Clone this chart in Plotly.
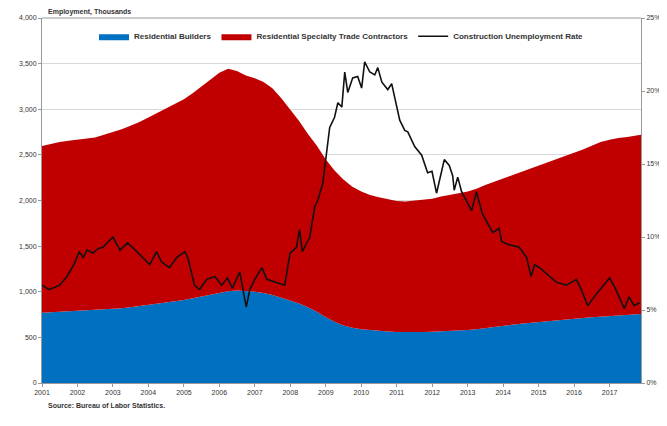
import pandas as pd
import plotly.graph_objects as go

# Quarterly employment (thousands)
area_dates = [d.strftime("%Y-%m-%d") for d in pd.date_range("2001-01-01", periods=68, freq="QS")] + ["2017-11-20"]

builders = [770, 775, 780, 785, 790, 795, 800, 805, 810, 820, 830, 842,
            855, 868, 880, 895, 910, 930, 950, 970, 990, 1005, 1015, 1010,
            1000, 985, 965, 935, 905, 870, 830, 780, 720, 670, 630, 605,
            590, 580, 575, 565, 560, 558, 558, 560, 562, 565, 570, 575,
            580, 590, 600, 612, 625, 638, 650, 660, 670, 680, 690, 698,
            705, 712, 720, 728, 735, 742, 748, 752, 756]

specialty = [1827, 1845, 1860, 1870, 1875, 1885, 1890, 1915, 1940, 1960, 1990, 2018,
             2055, 2092, 2135, 2165, 2200, 2245, 2300, 2360, 2410, 2440, 2405, 2360,
             2340, 2315, 2265, 2185, 2095, 2000, 1900, 1820, 1730, 1660, 1600, 1545,
             1510, 1480, 1460, 1450, 1435, 1432, 1442, 1450, 1458, 1480, 1490, 1505,
             1520, 1540, 1570, 1593, 1615, 1637, 1660, 1690, 1715, 1740, 1765, 1792,
             1820, 1848, 1880, 1912, 1930, 1943, 1947, 1958, 1964]

rate_dates = ["2001-01-01", "2001-03-15", "2001-07-01", "2001-09-15", "2001-12-01",
              "2002-01-20", "2002-03-01", "2002-04-10", "2002-06-10", "2002-07-30",
              "2002-09-20", "2002-11-01", "2003-01-01", "2003-03-15", "2003-06-01",
              "2003-09-05", "2004-01-15", "2004-03-25", "2004-05-15", "2004-08-05",
              "2004-10-20", "2005-01-10", "2005-02-10", "2005-04-20", "2005-06-10",
              "2005-08-25", "2005-11-15", "2006-01-25", "2006-03-25", "2006-05-15",
              "2006-07-30", "2006-10-05", "2006-11-10", "2007-01-01", "2007-03-15",
              "2007-05-05", "2007-08-15", "2007-11-05", "2007-12-30", "2008-03-05",
              "2008-04-05", "2008-05-05", "2008-07-20", "2008-09-10", "2008-10-10",
              "2008-12-01", "2009-02-10", "2009-04-01", "2009-05-05", "2009-06-15",
              "2009-07-15", "2009-08-15", "2009-10-05", "2009-11-25", "2010-01-05",
              "2010-02-05", "2010-03-30", "2010-05-20", "2010-06-20", "2010-08-01",
              "2010-10-01", "2010-11-10", "2010-12-10", "2011-02-01", "2011-03-25",
              "2011-04-25", "2011-07-05", "2011-09-15", "2011-11-15", "2011-12-30",
              "2012-02-15", "2012-05-05", "2012-06-25", "2012-07-30", "2012-08-15",
              "2012-09-20", "2012-10-30", "2013-02-10", "2013-04-01", "2013-06-01",
              "2013-09-15", "2013-11-20", "2013-12-15", "2014-02-15", "2014-06-15",
              "2014-08-30", "2014-10-15", "2014-11-20", "2015-01-10", "2015-03-25",
              "2015-07-05", "2015-10-15", "2016-01-25", "2016-03-15", "2016-05-20",
              "2016-08-30", "2017-01-01", "2017-02-20", "2017-06-01", "2017-07-20",
              "2017-09-10", "2017-11-05"]

rate = [6.7, 6.4, 6.7, 7.3, 8.2,
        9.0, 8.6, 9.1, 8.9, 9.2,
        9.3, 9.6, 10.0, 9.1, 9.6,
        9.0, 8.1, 9.0, 8.3, 7.9,
        8.6, 9.0, 8.6, 6.7, 6.4,
        7.1, 7.3, 6.7, 7.2, 6.5,
        7.6, 5.2, 6.4, 7.1, 7.9,
        7.1, 6.9, 6.7, 8.9, 9.3,
        10.5, 9.0, 10.0, 12.1, 12.5,
        13.7, 17.5, 18.2, 19.2, 18.9,
        21.3, 19.9, 20.9, 21.0, 20.2,
        22.0, 21.3, 21.1, 21.6, 20.6,
        20.1, 20.5, 19.6, 18.0, 17.3,
        17.2, 16.2, 15.6, 14.4, 14.5,
        13.0, 15.3, 14.9, 14.2, 13.2,
        14.1, 13.1, 11.8, 13.1, 11.6,
        10.3, 10.6, 9.7, 9.5, 9.3,
        8.6, 7.3, 8.1, 7.9, 7.5,
        6.9, 6.7, 7.1, 6.4, 5.3,
        6.2, 7.2, 6.6, 5.1, 5.9,
        5.3, 5.5]

year_ticks = [f"{y}-01-01" for y in range(2001, 2018)]
year_labels = [str(y) for y in range(2001, 2018)]

FONT = "Liberation Sans"
TXT = "#333333"

fig = go.Figure()
fig.add_trace(go.Scatter(x=area_dates, y=builders, name="<b>Residential Builders</b>",
                         stackgroup="emp", mode="lines", line=dict(width=0, color="#0070C0"),
                         fillcolor="#0070C0"))
fig.add_trace(go.Scatter(x=area_dates, y=specialty, name="<b>Residential Specialty Trade Contractors</b>",
                         stackgroup="emp", mode="lines", line=dict(width=0, color="#C00000"),
                         fillcolor="#C00000"))
fig.add_trace(go.Scatter(x=rate_dates, y=rate, name="<b>Construction Unemployment Rate</b>",
                         mode="lines", line=dict(width=1.6, color="#111111"), yaxis="y2"))

fig.update_layout(
    width=659, height=418,
    margin=dict(l=34, r=26, t=10, b=43, autoexpand=False),
    paper_bgcolor="white", plot_bgcolor="white",
    font=dict(family=FONT, size=7, color=TXT),
    showlegend=True,
    legend=dict(orientation="h", x=0.5, xanchor="center", y=0.95, yanchor="middle",
                font=dict(size=8, color=TXT), bgcolor="rgba(0,0,0,0)",
                itemwidth=30, tracegroupgap=0, traceorder="normal"),
    xaxis=dict(type="date", range=["2001-01-01", "2017-11-20"],
               tickvals=year_ticks, ticktext=year_labels, automargin=False,
               showgrid=False, ticks="outside", ticklen=3, tickcolor="#999999",
               showline=True, linecolor="#999999", linewidth=1,
               tickfont=dict(size=7, color=TXT)),
    yaxis=dict(range=[0, 4000], dtick=500, tickformat=",", showgrid=True,
               gridcolor="#D9D9D9", gridwidth=1, zeroline=False, automargin=False,
               showline=True, linecolor="#999999", linewidth=1,
               ticks="outside", ticklen=3, tickcolor="#999999",
               tickfont=dict(size=7, color=TXT)),
    yaxis2=dict(range=[0, 25], dtick=5, ticksuffix="%", overlaying="y", side="right",
                showgrid=False, zeroline=False, showline=True, linecolor="#999999",
                linewidth=1, ticks="outside", ticklen=3, tickcolor="#999999",
                automargin=False, tickfont=dict(size=7, color=TXT)),
    shapes=[dict(type="line", xref="paper", yref="paper", x0=0, x1=1, y0=1, y1=1,
                 line=dict(color="#999999", width=1))],
    annotations=[
        dict(text="<b>Employment, Thousands</b>", xref="paper", yref="paper",
             x=0.0, y=1.0, xanchor="left", yanchor="bottom", yshift=0, xshift=4,
             showarrow=False, font=dict(size=7, color=TXT)),
        dict(text="<b>Source: Bureau of Labor Statistics.</b>", xref="paper", yref="paper",
             x=0.0, y=0, xanchor="left", yanchor="top", yshift=-17, xshift=4,
             showarrow=False, font=dict(size=7, color=TXT)),
    ],
)

fig.write_html("out.html")
